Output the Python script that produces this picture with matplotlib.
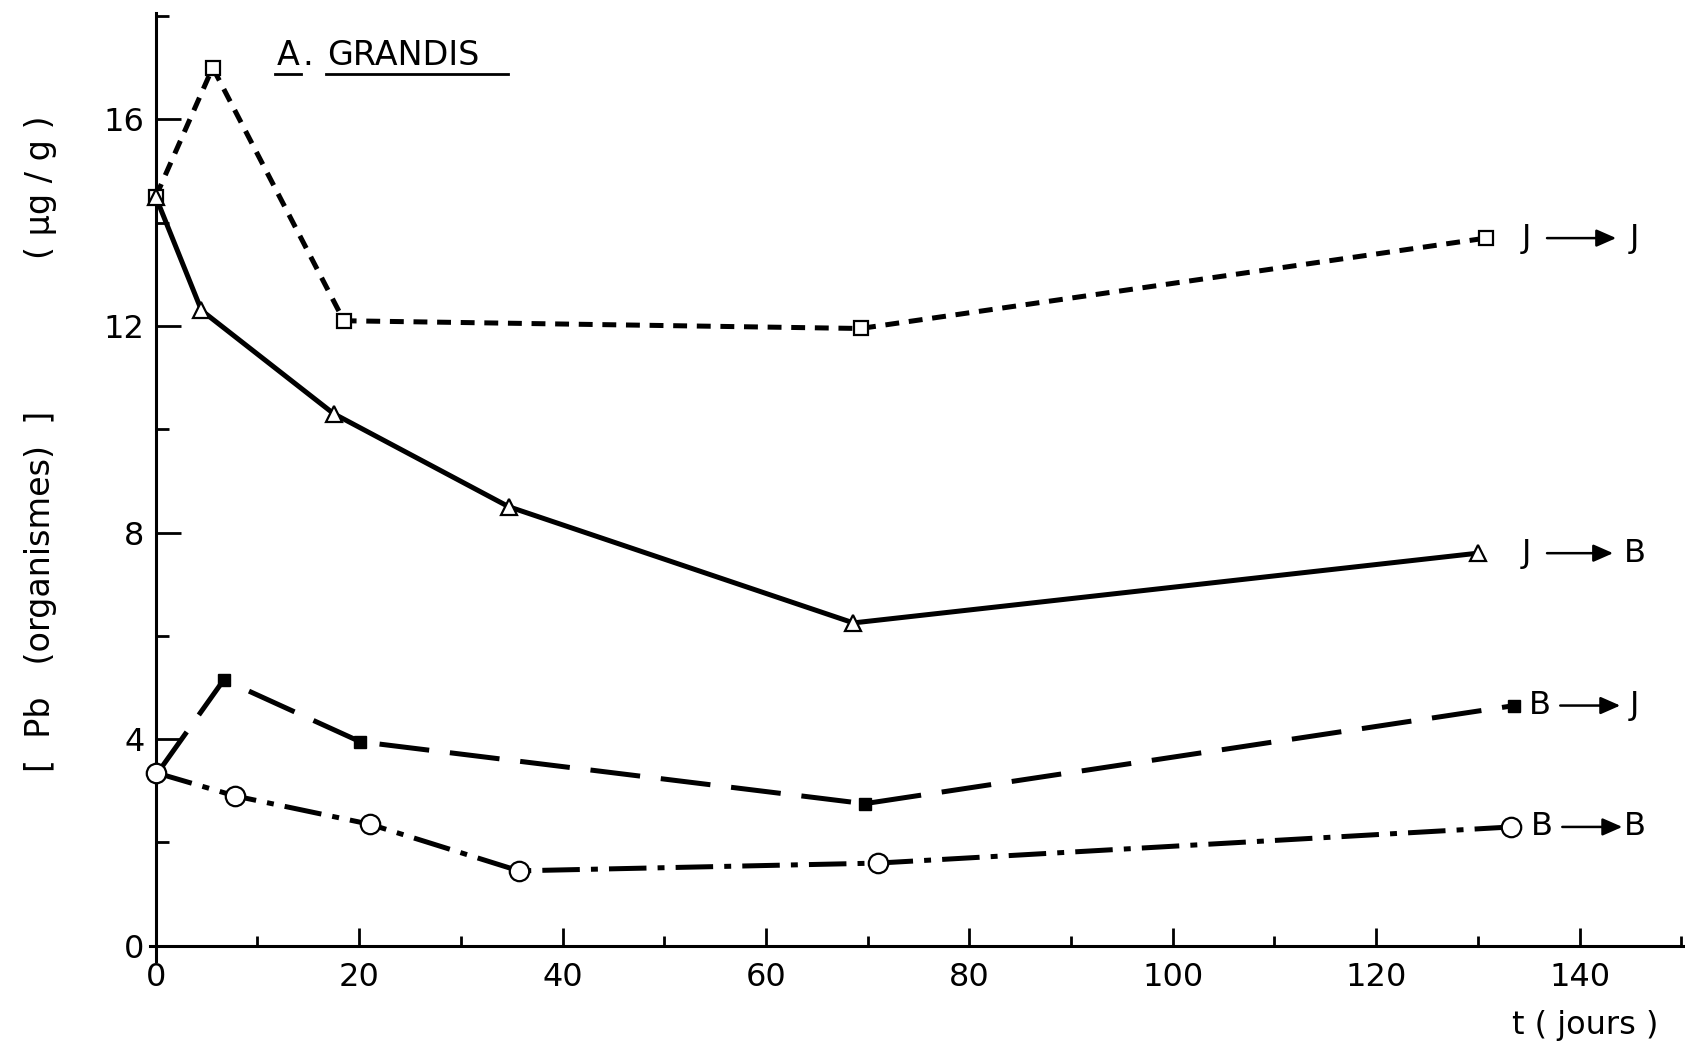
import matplotlib
matplotlib.use('Agg')
import matplotlib.pyplot as plt
from matplotlib.ticker import FixedLocator

plt.rcParams['font.family'] = ['Liberation Sans Narrow', 'DejaVu Sans']
plt.rcParams['lines.scale_dashes'] = False

# Pb in organisms (ug/g) vs time (days), A. grandis transfers
jj_t = [0, 5.6, 18.5, 69.3, 130.8]
jj_pb = [14.5, 17.0, 12.1, 11.95, 13.7]

jb_t = [0, 4.5, 17.5, 34.7, 68.6, 130.0]
jb_pb = [14.5, 12.3, 10.3, 8.5, 6.25, 7.6]

bj_t = [0.2, 6.7, 20.1, 69.7, 133.6]
bj_pb = [3.35, 5.15, 3.95, 2.75, 4.65]

bb_t = [0, 7.8, 21.1, 35.7, 71.0, 133.3]
bb_pb = [3.35, 2.9, 2.35, 1.45, 1.6, 2.3]

# transfer labels: origin -> destination
lab_from = ['J', 'J', 'B', 'B']
lab_to = ['J', 'B', 'J', 'B']
lab_y = [13.7, 7.6, 4.65, 2.3]

y_major = [0, 4, 8, 12, 16]
y_minor = [2, 6, 10, 14, 18]
x_major = [0, 20, 40, 60, 80, 100, 120, 140]
x_minor = [10, 30, 50, 70, 90, 110, 130, 150]

fig = plt.figure(figsize=(16.85, 10.48), dpi=100)
ax = fig.add_axes([0.0888, 0.0828, 0.9108, 0.9044])
ax.set_xlim(-0.6, 150.3)
ax.set_ylim(-0.3, 18.05)

for s in ['top', 'right']:
    ax.spines[s].set_visible(False)
ax.spines['left'].set_position(('data', 0))
ax.spines['bottom'].set_position(('data', 0))
for s in ['left', 'bottom']:
    ax.spines[s].set_linewidth(2.2)

ax.yaxis.set_major_locator(FixedLocator(y_major))
ax.yaxis.set_minor_locator(FixedLocator(y_minor))
ax.xaxis.set_major_locator(FixedLocator(x_major))
ax.xaxis.set_minor_locator(FixedLocator(x_minor))
ax.tick_params(axis='y', which='major', direction='in', length=18, width=2, pad=8, labelsize=23)
ax.tick_params(axis='y', which='minor', direction='in', length=9, width=2)
ax.tick_params(axis='x', which='major', direction='in', length=13, width=2, pad=12, labelsize=23)
ax.tick_params(axis='x', which='minor', direction='in', length=7, width=2)

lw = 3.6
ax.plot(jj_t, jj_pb, color='k', lw=lw, dashes=(10, 7), marker='s', ms=10.5,
        mfc='white', mec='k', mew=1.6, clip_on=False, zorder=3)
ax.plot(jb_t, jb_pb, color='k', lw=lw, ls='-', marker='^', ms=11.5,
        mfc='white', mec='k', mew=1.6, clip_on=False, zorder=3)
ax.plot(bj_t, bj_pb, color='k', lw=lw, dashes=(36, 15), marker='s', ms=9,
        mfc='k', mec='k', clip_on=False, zorder=3)
ax.plot(bb_t, bb_pb, color='k', lw=lw, dashes=(27, 8, 5, 8), marker='o', ms=14,
        mfc='white', mec='k', mew=1.6, clip_on=False, zorder=3)

lab_x0 = [134.8, 134.8, 136.1, 136.3]
arr_x1 = [143.6, 143.3, 144.0, 144.2]
for a, b, y, x0, x1 in zip(lab_from, lab_to, lab_y, lab_x0, arr_x1):
    ax.text(x0, y, a, fontsize=23, ha='center', va='center')
    ax.annotate('', xy=(x1, y), xytext=(x0 + 2.0, y),
                arrowprops=dict(arrowstyle='-|>,head_length=0.5,head_width=0.22',
                                color='k', lw=1.8, mutation_scale=24,
                                shrinkA=0, shrinkB=0))
    ax.text(145.4, y, b, fontsize=23, ha='center', va='center')

# species name, each word underlined
ax.text(11.9, 17.05, 'A', fontsize=24, ha='left', va='baseline')
ax.text(14.9, 17.05, '.', fontsize=24, ha='center', va='baseline')
ax.text(16.9, 17.05, 'GRANDIS', fontsize=24, ha='left', va='baseline')
ax.plot([11.7, 14.3], [16.88, 16.88], color='k', lw=2)
ax.plot([16.7, 34.6], [16.88, 16.88], color='k', lw=2)

fig.text(0.0243, 0.436, '[  Pb   (organismes)  ]', rotation=90, fontsize=24,
         ha='center', va='center')
fig.text(0.0243, 0.821, '( µg / g )', rotation=90, fontsize=24,
         ha='center', va='center')
fig.text(0.941, 0.021, 't ( jours )', fontsize=23, ha='center', va='center')

fig.savefig('out.png', dpi=100, facecolor='white')
